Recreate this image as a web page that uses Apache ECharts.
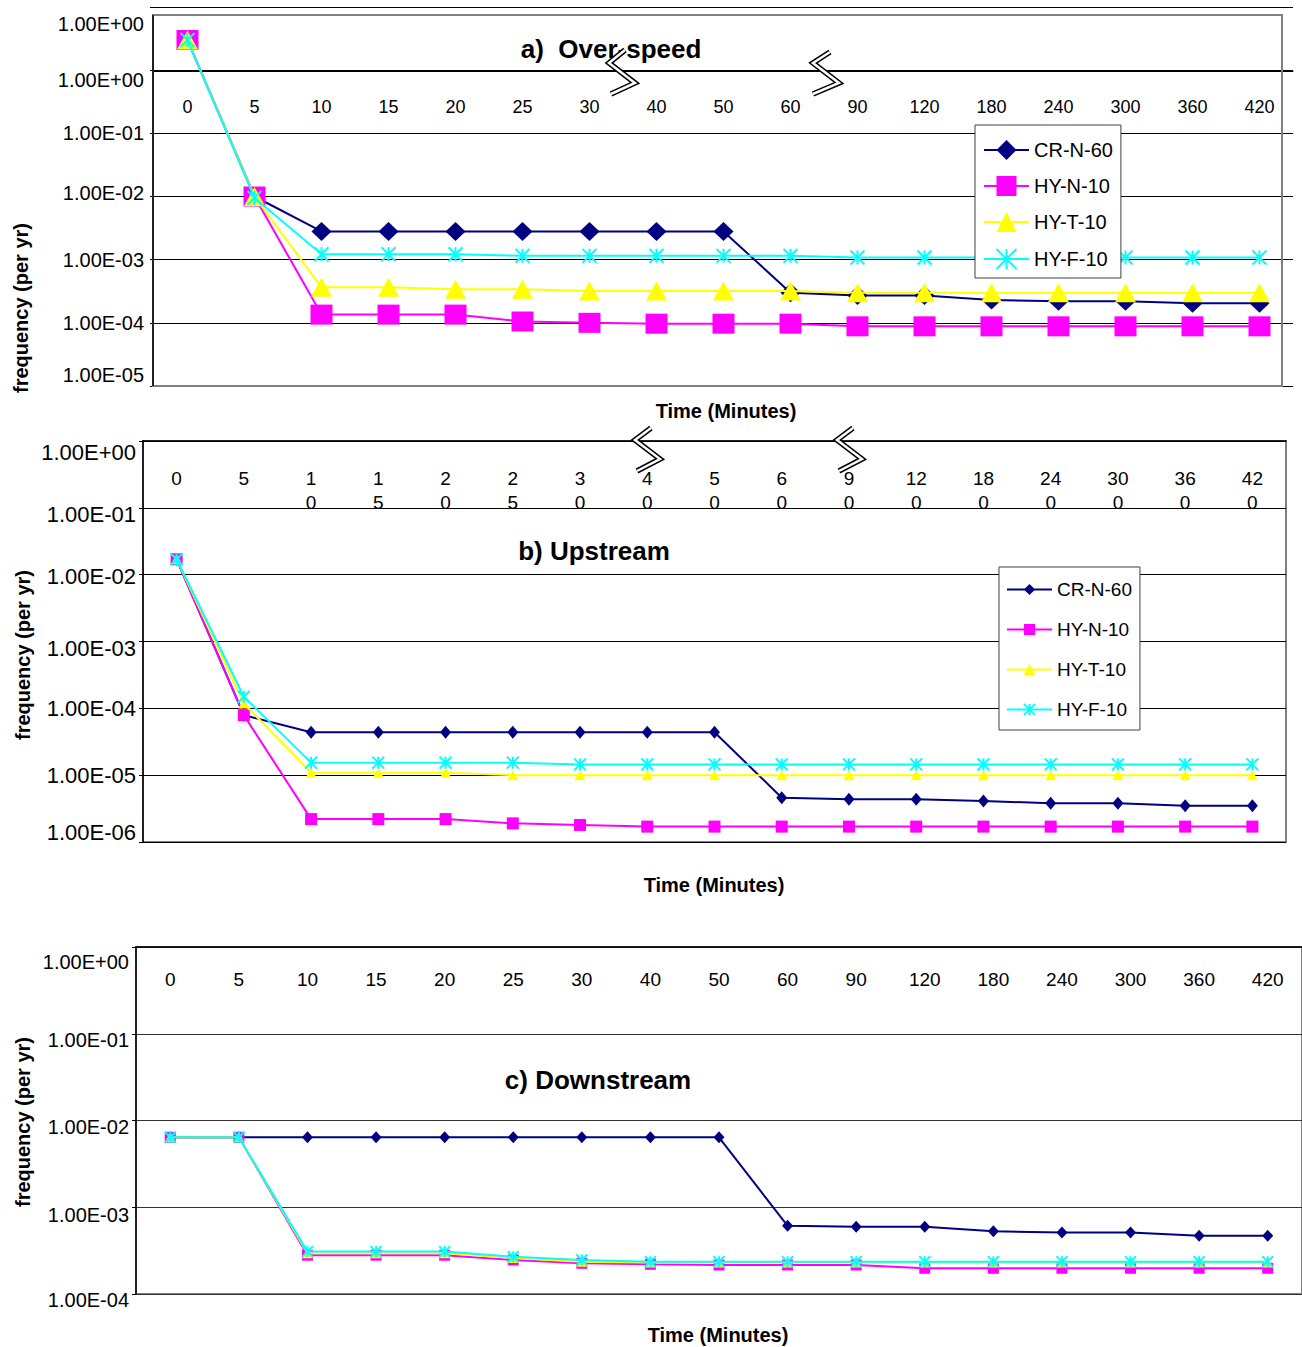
<!DOCTYPE html>
<html><head><meta charset="utf-8">
<script src="https://cdn.jsdelivr.net/npm/echarts@6/dist/echarts.min.js"></script>
<style>html,body{margin:0;padding:0;background:#fff}#c{width:1302px;height:1347px}</style>
</head><body><div id="c"></div>
<script>
// ---------- data ----------
const categories = ['0','5','10','15','20','25','30','40','50','60','90','120','180','240','300','360','420'];
const categoriesWrapped = ['0','5','1\n0','1\n5','2\n0','2\n5','3\n0','4\n0','5\n0','6\n0','9\n0','12\n0','18\n0','24\n0','30\n0','36\n0','42\n0'];
const seriesNames = ['CR-N-60','HY-N-10','HY-T-10','HY-F-10'];

// a) Over-speed
const overCR  = [3.0, 1.0e-2, 2.8e-3, 2.8e-3, 2.8e-3, 2.8e-3, 2.8e-3, 2.8e-3, 2.8e-3, 3.0e-4, 2.7e-4, 2.7e-4, 2.3e-4, 2.2e-4, 2.2e-4, 2.05e-4, 2.05e-4];
const overHYN = [3.0, 1.0e-2, 1.35e-4, 1.35e-4, 1.35e-4, 1.05e-4, 1.0e-4, 9.7e-5, 9.7e-5, 9.7e-5, 8.8e-5, 8.8e-5, 8.8e-5, 8.8e-5, 8.8e-5, 8.8e-5, 8.8e-5];
const overHYT = [3.0, 1.0e-2, 3.65e-4, 3.65e-4, 3.4e-4, 3.4e-4, 3.2e-4, 3.2e-4, 3.2e-4, 3.2e-4, 3.0e-4, 3.0e-4, 3.0e-4, 3.0e-4, 3.0e-4, 3.0e-4, 3.0e-4];
const overHYF = [3.0, 9.5e-3, 1.22e-3, 1.22e-3, 1.22e-3, 1.15e-3, 1.15e-3, 1.15e-3, 1.15e-3, 1.15e-3, 1.08e-3, 1.08e-3, 1.08e-3, 1.08e-3, 1.08e-3, 1.08e-3, 1.08e-3];

// b) Upstream
const upCR  = [1.7e-2, 7.9e-5, 4.4e-5, 4.4e-5, 4.4e-5, 4.4e-5, 4.4e-5, 4.4e-5, 4.4e-5, 4.6e-6, 4.35e-6, 4.35e-6, 4.1e-6, 3.8e-6, 3.8e-6, 3.5e-6, 3.5e-6];
const upHYN = [1.7e-2, 7.9e-5, 2.2e-6, 2.2e-6, 2.2e-6, 1.9e-6, 1.8e-6, 1.7e-6, 1.7e-6, 1.7e-6, 1.7e-6, 1.7e-6, 1.7e-6, 1.7e-6, 1.7e-6, 1.7e-6, 1.7e-6];
const upHYT = [1.7e-2, 1.18e-4, 1.09e-5, 1.09e-5, 1.09e-5, 1.0e-5, 1.0e-5, 1.0e-5, 1.0e-5, 1.0e-5, 1.0e-5, 1.0e-5, 1.0e-5, 1.0e-5, 1.0e-5, 1.0e-5, 1.0e-5];
const upHYF = [1.7e-2, 1.49e-4, 1.54e-5, 1.54e-5, 1.54e-5, 1.54e-5, 1.45e-5, 1.45e-5, 1.45e-5, 1.45e-5, 1.45e-5, 1.45e-5, 1.45e-5, 1.45e-5, 1.45e-5, 1.45e-5, 1.45e-5];

// c) Downstream
const downCR  = [6.4e-3, 6.4e-3, 6.4e-3, 6.4e-3, 6.4e-3, 6.4e-3, 6.4e-3, 6.4e-3, 6.4e-3, 6.1e-4, 5.95e-4, 5.95e-4, 5.3e-4, 5.1e-4, 5.1e-4, 4.7e-4, 4.7e-4];
const downHYN = [6.4e-3, 6.4e-3, 2.8e-4, 2.8e-4, 2.8e-4, 2.47e-4, 2.26e-4, 2.2e-4, 2.16e-4, 2.16e-4, 2.16e-4, 1.98e-4, 1.98e-4, 1.98e-4, 1.98e-4, 1.98e-4, 1.98e-4];
const downHYT = [6.4e-3, 6.4e-3, 2.95e-4, 2.95e-4, 2.95e-4, 2.6e-4, 2.35e-4, 2.3e-4, 2.3e-4, 2.3e-4, 2.3e-4, 2.3e-4, 2.3e-4, 2.3e-4, 2.3e-4, 2.3e-4, 2.3e-4];
const downHYF = [6.4e-3, 6.4e-3, 3.08e-4, 3.08e-4, 3.08e-4, 2.69e-4, 2.47e-4, 2.36e-4, 2.36e-4, 2.36e-4, 2.36e-4, 2.36e-4, 2.36e-4, 2.36e-4, 2.36e-4, 2.36e-4, 2.36e-4];

// y tick labels, top to bottom
const overTickLabels = ['1.00E+00','1.00E+00','1.00E-01','1.00E-02','1.00E-03','1.00E-04','1.00E-05'];
const upTickLabels   = ['1.00E+00','1.00E-01','1.00E-02','1.00E-03','1.00E-04','1.00E-05','1.00E-06'];
const downTickLabels = ['1.00E+00','1.00E-01','1.00E-02','1.00E-03','1.00E-04'];

const panelTitles = ['a)  Over-speed','b) Upstream','c) Downstream'];
const xTitle = 'Time (Minutes)';
const yTitle = 'frequency (per yr)';

// ---------- styling ----------
const FONT = '"Liberation Sans", Arial, sans-serif';
const colors = ['#000080','#FF00FF','#FFFF00','#00FFFF'];
const starPath = 'path://M0,0L10,10M10,0L0,10M5,0L5,10';
const symbols = ['diamond','rect','triangle', starPath];
const symSizes = [
  [[20,19],[22,20],[21,19],14],
  [[11,13],[12,12],[11,10],12],
  [[11,12],[11,11],[11,10],11]
];
// vertical nudges of y labels (px, + = down)
const labelShifts = [
  [17,10,0,-4,0,0,-11],
  [11,7,2,7,0,0,-10],
  [15,6,6,8,6]
];

function makeRich(shifts, fs){
  const r = {};
  shifts.forEach((d,i)=>{
    r['s'+i] = {fontSize: fs, fontFamily: FONT, color:'#000',
      padding: d >= 0 ? [2*d,0,0,0] : [0,0,-2*d,0]};
  });
  return r;
}
function yFormatter(labels, topExp){
  return function(v){
    const e = Math.round(Math.log10(v));
    const i = topExp - e;
    return '{s'+i+'|'+(labels[i]||'')+'}';
  };
}

const grids = [
  {left:154, top:7,   width:1139, height:379},
  {left:143, top:441, width:1143, height:401, show:true, borderColor:'#808080', borderWidth:2},
  {left:136, top:947, width:1166, height:347, show:true, borderColor:'#808080', borderWidth:2}
];

const xAxes = [
  {gridIndex:0, type:'category', data:categories, position:'top', offset:-64,
   axisLine:{lineStyle:{color:'#000', width:1}}, axisTick:{inside:true, length:5, lineStyle:{color:'#000'}},
   axisLabel:{inside:true, margin:27, interval:0, fontSize:18, fontFamily:FONT, color:'#000'}},
  {gridIndex:1, type:'category', data:categoriesWrapped, position:'top',
   axisLine:{lineStyle:{color:'#000', width:1.5}}, axisTick:{inside:true, length:5, lineStyle:{color:'#000'}},
   axisLabel:{inside:true, margin:25, interval:0, fontSize:19, lineHeight:24, fontFamily:FONT, color:'#000'}},
  {gridIndex:2, type:'category', data:categories, position:'top',
   axisLine:{lineStyle:{color:'#000', width:1.5}}, axisTick:{inside:true, length:5, lineStyle:{color:'#000'}},
   axisLabel:{inside:true, margin:23, interval:0, fontSize:19, fontFamily:FONT, color:'#000'}}
];

const yAxes = [
  {gridIndex:0, type:'log', logBase:10, min:1e-5, max:10, splitNumber:6,
   axisLine:{show:false}, axisTick:{show:true, length:4, lineStyle:{color:'#000'}},
   splitLine:{show:true, lineStyle:{color:'#000', width:1}},
   axisLabel:{margin:10, formatter:yFormatter(overTickLabels,1), rich:makeRich(labelShifts[0],20)}},
  {gridIndex:1, type:'log', logBase:10, min:1e-6, max:1, splitNumber:6,
   axisLine:{show:true, lineStyle:{color:'#000', width:1.5}}, axisTick:{show:true, length:4, lineStyle:{color:'#000'}},
   splitLine:{show:true, lineStyle:{color:'#000', width:1}},
   axisLabel:{margin:7, formatter:yFormatter(upTickLabels,0), rich:makeRich(labelShifts[1],22)}},
  {gridIndex:2, type:'log', logBase:10, min:1e-4, max:1, splitNumber:4,
   axisLine:{show:true, lineStyle:{color:'#000', width:1.5}}, axisTick:{show:true, length:4, lineStyle:{color:'#000'}},
   splitLine:{show:true, lineStyle:{color:'#333', width:1.2}},
   axisLabel:{margin:7, formatter:yFormatter(downTickLabels,0), rich:makeRich(labelShifts[2],20)}}
];

const panelData = [
  [overCR, overHYN, overHYT, overHYF],
  [upCR, upHYN, upHYT, upHYF],
  [downCR, downHYN, downHYT, downHYF]
];

const series = [];
panelData.forEach((set, p)=>{
  set.forEach((vals, k)=>{
    const isStar = k === 3;
    series.push({
      type:'line', name:seriesNames[k], xAxisIndex:p, yAxisIndex:p, data:vals,
      symbol:symbols[k], symbolSize:symSizes[p][k], showSymbol:true,
      lineStyle:{color:colors[k], width:2},
      itemStyle:{color:colors[k], borderColor:colors[k], borderWidth: isStar ? 2 : 0},
      emphasis:{disabled:true}, z: 2+k
    });
  });
});

const legendItems = ()=> seriesNames.map((n,k)=>({
  name:n,
  itemStyle: k===3 ? {borderColor:colors[3], borderWidth:2} : {}
}));

const legends = [
  {z:30, left:975, top:125, orient:'vertical', itemWidth:45, itemHeight:25, itemGap:16,
   padding:[15,8,8,8], backgroundColor:'#fff', borderColor:'#404040', borderWidth:1,
   textStyle:{fontSize:20, fontFamily:FONT, color:'#000'}, selectedMode:false, data:legendItems()},
  {z:30, left:999, top:567, orient:'vertical', itemWidth:45, itemHeight:14, itemGap:21,
   padding:[13,8,11,7], backgroundColor:'#fff', borderColor:'#404040', borderWidth:1,
   textStyle:{fontSize:19, fontFamily:FONT, color:'#000'}, selectedMode:false, data:legendItems()}
];

function txt(x, y, s, font, rot){
  return {type:'text', x:x, y:y, rotation:rot||0, z:50,
    style:{text:s, font:font, fill:'#000', align:'center', verticalAlign:'middle'}};
}
function brk(pts){
  return [
    {type:'polyline', z:60, shape:{points:pts}, style:{stroke:'#000', lineWidth:5.5, fill:null, lineJoin:'miter'}},
    {type:'polyline', z:61, shape:{points:pts}, style:{stroke:'#fff', lineWidth:2.5, fill:null, lineJoin:'miter'}}
  ];
}

const graphic = [
  {type:'rect', z:1, shape:{x:153, y:15, width:1129, height:371}, style:{fill:null, stroke:'#808080', lineWidth:2}},
  {type:'line', z:1, shape:{x1:153, y1:15, x2:153, y2:386}, style:{stroke:'#000', lineWidth:1.5}},
  txt(611, 49, panelTitles[0], 'bold 26px '+FONT),
  txt(594, 551, panelTitles[1], 'bold 26px '+FONT),
  txt(598, 1080, panelTitles[2], 'bold 26px '+FONT),
  txt(726, 411, xTitle, 'bold 20px '+FONT),
  txt(714, 885, xTitle, 'bold 20px '+FONT),
  txt(718, 1335, xTitle, 'bold 20px '+FONT),
  txt(21, 308, yTitle, 'bold 20px '+FONT, Math.PI/2),
  txt(23, 655, yTitle, 'bold 20px '+FONT, Math.PI/2),
  txt(23, 1122, yTitle, 'bold 20px '+FONT, Math.PI/2)
].concat(
  brk([[625,50],[609,63],[635,83],[611,94]]),
  brk([[830,52],[813,63],[839,83],[813,94]]),
  brk([[651,428],[635,440],[660,459],[637,471]]),
  brk([[853,428],[837,440],[862,459],[839,471]])
);

const chart = echarts.init(document.getElementById('c'), null, {renderer:'svg'});
chart.setOption({
  animation:false,
  backgroundColor:'#fff',
  textStyle:{fontFamily:FONT},
  grid:grids, xAxis:xAxes, yAxis:yAxes, series:series, legend:legends, graphic:graphic
});
</script>
</body></html>
